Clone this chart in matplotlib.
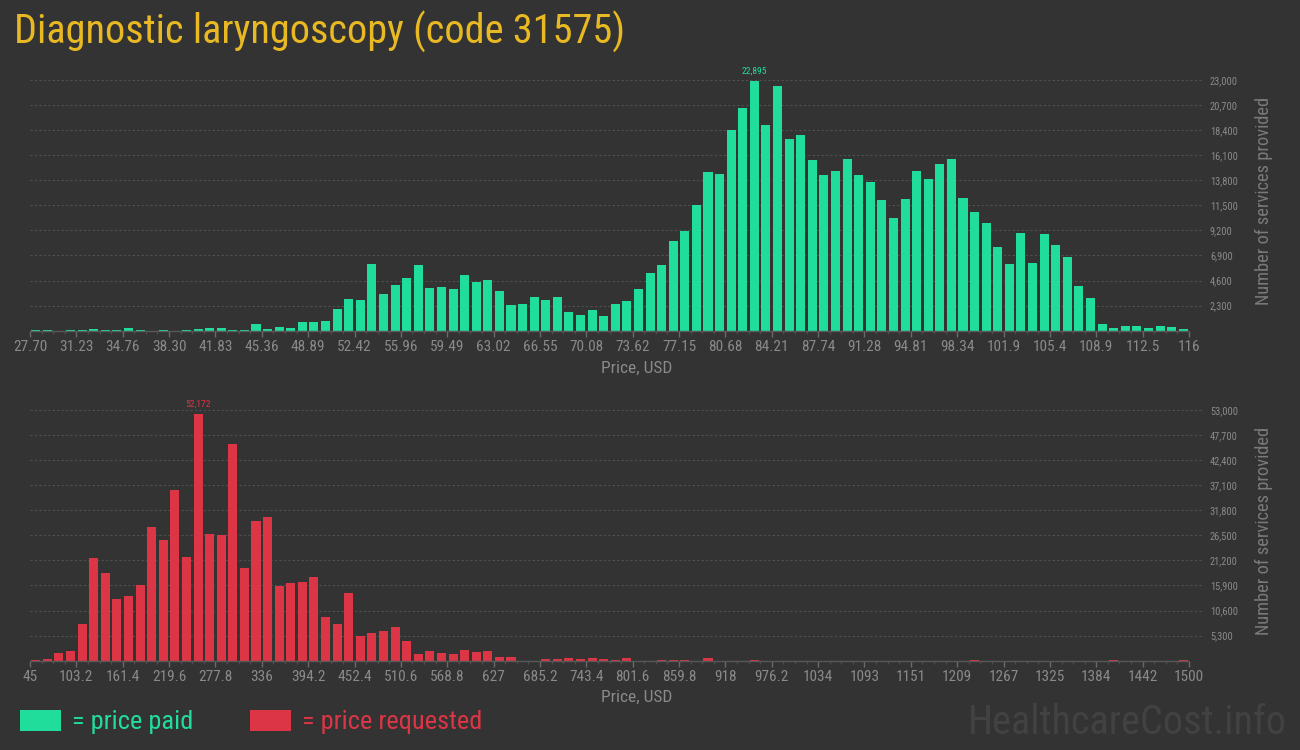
import matplotlib
matplotlib.use('Agg')
import matplotlib.pyplot as plt
import matplotlib.font_manager as fm
from matplotlib.patches import Rectangle
import numpy as np

# ---------------- data ----------------
paid_tick_labels = ["27.70", "31.23", "34.76", "38.30", "41.83", "45.36", "48.89", "52.42",
                    "55.96", "59.49", "63.02", "66.55", "70.08", "73.62", "77.15", "80.68",
                    "84.21", "87.74", "91.28", "94.81", "98.34", "101.9", "105.4", "108.9",
                    "112.5", "116"]
paid_counts = [100, 100, 0, 100, 100, 180, 100, 100, 270, 100,
               0, 100, 0, 100, 160, 250, 250, 100, 100, 610,
               160, 340, 250, 800, 800, 890, 1990, 2900, 2810, 6120,
               3360, 4190, 4830, 6030, 3915, 4007, 3824, 5108, 4497, 4650,
               3640, 2355, 2447, 3090, 2814, 3090, 1713, 1438, 1897, 1346,
               2447, 2722, 3824, 5292, 6026, 8229, 9146, 11532, 14561, 14377,
               18415, 20434, 22895, 18874, 22453, 17589, 17956, 15662, 14285, 14652,
               15753, 14285, 13643, 11991, 10339, 12083, 14652, 13918, 15295, 15753,
               12175, 10890, 9881, 7678, 6118, 8963, 6210, 8871, 7862, 6761,
               4099, 2998, 612, 245, 428, 428, 245, 428, 336, 153]

req_tick_labels = ["45", "103.2", "161.4", "219.6", "277.8", "336", "394.2", "452.4",
                   "510.6", "568.8", "627", "685.2", "743.4", "801.6", "859.8", "918",
                   "976.2", "1034", "1093", "1151", "1209", "1267", "1325", "1384",
                   "1442", "1500"]
req_counts = [141, 352, 1621, 2044, 7753, 21708, 18536, 13039, 13673, 15999,
              28262, 25514, 36086, 21919, 52172, 26782, 26571, 45812, 19593, 29531,
              30376, 15787, 16422, 16633, 17690, 9233, 7753, 14307, 5215, 5850,
              6273, 7118, 4158, 1410, 2044, 1621, 1410, 2255, 1832, 2044,
              775, 775, 0, 0, 352, 352, 564, 352, 564, 352,
              141, 564, 0, 0, 141, 141, 141, 0, 564, 0,
              0, 0, 141, 0, 0, 0, 0, 0, 0, 0,
              0, 0, 0, 0, 0, 0, 0, 0, 0, 0,
              0, 100, 0, 0, 0, 0, 0, 0, 0, 0,
              0, 0, 0, 100, 0, 0, 0, 0, 0, 100]

paid_step = 2300
req_step = 5300

title = "Diagnostic laryngoscopy (code 31575)"

# ---------------- style ----------------
BG = '#333333'
GREEN = '#21dd9b'
RED = '#dc3545'
GOLD = '#e8b923'
TXT = '#8a8a8a'

names = {f.name for f in fm.fontManager.ttflist}


def pick(*cands):
    for c in cands:
        if c in names:
            return c
    return 'DejaVu Sans'


CONDENSED = 'Roboto Condensed' in names
MAIN = pick('Roboto Condensed', 'Roboto', 'DejaVu Sans')
NARROW = pick('Roboto Condensed', 'Liberation Sans Narrow', 'Roboto', 'DejaVu Sans')

W, H = 1300, 750
fig = plt.figure(figsize=(W / 100, H / 100), dpi=100, facecolor=BG)


def add_ax(x0, y_top, x1, y_bot):
    return fig.add_axes([x0 / W, 1 - y_bot / H, (x1 - x0) / W, (y_bot - y_top) / H])


def panel(ax, counts, tick_labels, ystep, color, xlab_y, tick_fs):
    n = len(counts)
    pos = np.arange(n) + 0.5
    ax.set_facecolor(BG)
    ax.bar(pos, counts, width=0.78, color=color, zorder=3, linewidth=0)
    ax.set_xlim(0, n * 1173 / 1159)
    ax.set_ylim(0, ystep * 10)
    yt = ystep * np.arange(1, 11)
    ax.set_yticks(yt)
    ax.set_yticklabels([f'{v:,}' for v in yt], fontfamily=NARROW)
    ax.yaxis.tick_right()
    ax.tick_params(axis='y', length=0, pad=5, labelsize=7.5, labelcolor=TXT)
    for s in ax.spines.values():
        s.set_visible(False)
    ax.grid(axis='y', color='#505050', linestyle=(0, (2, 2)), linewidth=0.8, zorder=0)
    ax.plot([0, n], [0, 0], color='#585858', lw=1.0, zorder=4, clip_on=False,
            solid_capstyle='butt')
    major = np.arange(0, n + 1, 4)
    ax.set_xticks(major)
    ax.set_xticklabels(tick_labels, fontfamily=NARROW)
    ax.set_xticks(np.arange(0, n + 1), minor=True)
    ax.tick_params(axis='x', which='major', length=4, width=1, color='#6a6a6a',
                   labelsize=tick_fs, labelcolor=TXT, pad=3)
    ax.tick_params(axis='x', which='minor', length=2, width=1, color='#4c4c4c')
    imax = int(np.argmax(counts))
    ax.text(pos[imax], counts[imax] + ystep * 0.22, f'{counts[imax]:,}', ha='center',
            va='bottom', color=color, fontsize=6.8, fontfamily=NARROW, clip_on=False)
    fig.text(637 / W, 1 - xlab_y / H, 'Price, USD', ha='center', va='center',
             color=TXT, fontsize=12.5, fontfamily=MAIN)


tick_fs = 11 if NARROW in ('Roboto Condensed', 'Liberation Sans Narrow') else 10

ax1 = add_ax(30, 80, 1203, 330.7)
panel(ax1, paid_counts, paid_tick_labels, paid_step, GREEN, 368, tick_fs)
fig.text(1264 / W, 1 - 201 / H, 'Number of services provided', rotation=90,
         ha='center', va='center', color='#7a7a7a', fontsize=13.2, fontfamily=MAIN)

ax2 = add_ax(30, 410, 1203, 660.7)
panel(ax2, req_counts, req_tick_labels, req_step, RED, 697, tick_fs)
fig.text(1264 / W, 1 - 531 / H, 'Number of services provided', rotation=90,
         ha='center', va='center', color='#7a7a7a', fontsize=13.2, fontfamily=MAIN)

# title
title_fs = 29 if CONDENSED else 23.3
fig.text(14 / W, 1 - 44 / H, title, ha='left', va='baseline', color=GOLD,
         fontsize=title_fs, fontfamily=MAIN)

# legend
leg_fs = 19 if CONDENSED else 18
fig.add_artist(Rectangle((20 / W, 1 - 731 / H), 41 / W, 21 / H, transform=fig.transFigure,
                         facecolor=GREEN, edgecolor='none'))
fig.text(72 / W, 1 - 729 / H, '= price paid', ha='left', va='baseline', color=GREEN,
         fontsize=leg_fs, fontfamily=MAIN)
fig.add_artist(Rectangle((250 / W, 1 - 731 / H), 41 / W, 21 / H, transform=fig.transFigure,
                         facecolor=RED, edgecolor='none'))
fig.text(302 / W, 1 - 729 / H, '= price requested', ha='left', va='baseline', color=RED,
         fontsize=leg_fs, fontfamily=MAIN)

# watermark
fig.text(1287 / W, 1 - 734 / H, 'HealthcareCost.info', ha='right', va='baseline',
         color='#424242', fontsize=24 if not CONDENSED else 29, fontfamily=MAIN)

fig.savefig('out.png', dpi=100, facecolor=BG)
